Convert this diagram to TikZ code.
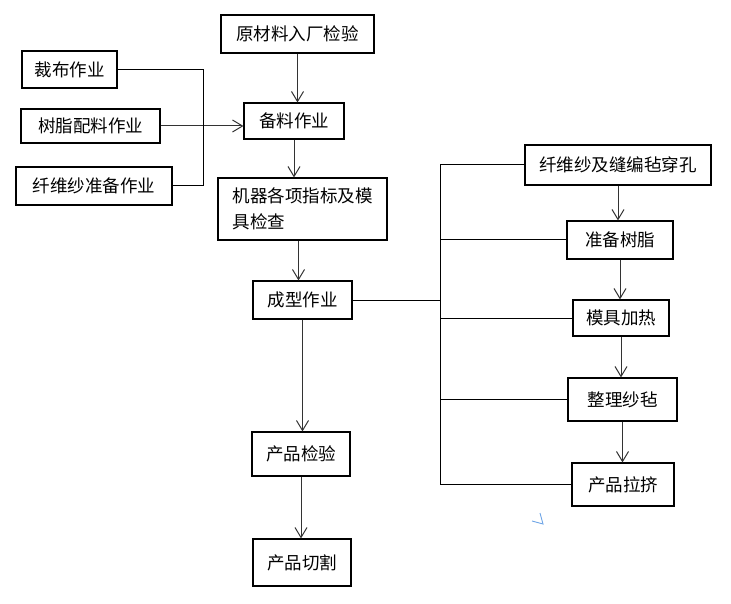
\documentclass[tikz,border=0pt]{standalone}
\usepackage{fontspec}
\newfontfamily\cjk{Noto Sans CJK SC}
\usepackage{color}
\definecolor{penblue}{RGB}{110,165,230}
\usetikzlibrary{arrows.meta}
\usetikzlibrary{positioning}

\begin{document}
\begin{tikzpicture}[x=1pt,y=-1pt,
  box/.style={rectangle,draw=black,line width=1.1pt,inner sep=0pt,font=\cjk\fontsize{17.5}{26}\selectfont},
  flow/.style={draw=black!80,line width=1pt,-{Straight Barb[length=10pt,width=12pt,line width=1pt]}},
  link/.style={draw=black,line width=1pt}]
\useasboundingbox (0,0) rectangle (731,604);
\node[box,minimum width=153pt,minimum height=38pt](raw) at (297.5,34){原材料入厂检验};
\node[box,minimum width=95pt,minimum height=37pt](cloth) at (69.5,69.5){裁布作业};
\node[box,minimum width=139pt,minimum height=34pt](resin) at (90.5,126){树脂配料作业};
\node[box,minimum width=156pt,minimum height=38pt](yarn) at (94,186){纤维纱准备作业};
\node[box,minimum width=100pt,minimum height=36pt](prep) at (294,121){备料作业};
\node[box,minimum width=169pt,minimum height=62pt,align=left](check) at (302.5,209){机器各项指标及模\\具检查};
\node[box,minimum width=99pt,minimum height=38pt](form) at (302.5,300){成型作业};
\node[box,minimum width=98pt,minimum height=44pt](insp) at (301,454){产品检验};
\node[box,minimum width=98pt,minimum height=47pt](cutp) at (302,562.5){产品切割};
\node[box,minimum width=186pt,minimum height=40pt](fiber) at (618,165){纤维纱及缝编毡穿孔};
\node[box,minimum width=106pt,minimum height=38pt](resintwo) at (620,240){准备树脂};
\node[box,minimum width=96pt,minimum height=36pt](heat) at (621,318){模具加热};
\node[box,minimum width=109pt,minimum height=43pt](tidy) at (622.5,399.5){整理纱毡};
\node[box,minimum width=102pt,minimum height=43pt](extr) at (623,484.5){产品拉挤};
\coordinate (lbus) at (203.5,0);
\coordinate (rbus) at (440,0);
\draw[flow] (raw.south) -- (raw.south |- prep.north);
\draw[flow] (prep.south) -- (prep.south |- check.north);
\draw[flow] ([xshift=-4pt]check.south) -- ([xshift=-4pt]check.south |- form.north);
\draw[flow] (form.south) -- (form.south |- insp.north);
\draw[flow] (insp.south) -- (insp.south |- cutp.north);
\draw[flow] (resin.east) -- (resin.east -| prep.west);
\draw[link] (cloth.east) -| (lbus |- yarn.east) -- (yarn.east);
\draw[link] (form.east) -- (form.east -| rbus);
\draw[link] (fiber.west) -| (rbus |- extr.west) -- (extr.west);
\foreach \n in {resintwo,heat,tidy}
  \draw[link] (\n.west) -- (\n.west -| rbus);
\foreach \a/\b in {fiber/resintwo,resintwo/heat,heat/tidy,tidy/extr}
  \draw[flow] (\a.south) -- (\a.south |- \b.north);
\draw[penblue,line width=0.9pt] (532,521) -- (543,524) -- (540,513);
\end{tikzpicture}
\end{document}
